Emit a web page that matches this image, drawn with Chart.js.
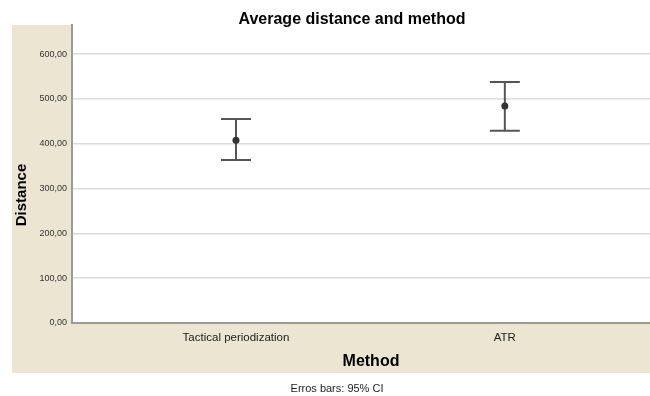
<!DOCTYPE html>
<html>
<head>
<meta charset="utf-8">
<script src="https://cdn.jsdelivr.net/npm/chart.js@4"></script>
<style>
  html, body { margin: 0; padding: 0; background: #ffffff; }
  #wrap { width: 650px; height: 396px; }
</style>
</head>
<body>
<div id="wrap"><canvas id="chart" width="650" height="396"></canvas></div>
<script>
// values
const methods = ['Tactical periodization', 'ATR'];
const means = [408, 484];
const ciLower = [364, 429];
const ciUpper = [455, 538];
const yTicks = [0, 100, 200, 300, 400, 500, 600];

const BEIGE = '#ebe5d1';
const AXIS = '#9c9a94';

// backgrounds: beige frame, white plot area
const frame = {
    id: 'frame',
    beforeDraw(chart) {
        const { ctx, chartArea: a } = chart;
        ctx.save();
        ctx.fillStyle = '#ffffff';
        ctx.fillRect(0, 0, chart.width, chart.height);
        ctx.fillStyle = BEIGE;
        ctx.fillRect(12, 25, chart.width - 12, 348);
        ctx.fillStyle = '#ffffff';
        ctx.fillRect(a.left, a.top, a.right - a.left, a.bottom - a.top);
        ctx.restore();
    },
    afterDraw(chart) {
        const { ctx } = chart;
        ctx.save();
        ctx.fillStyle = '#000000';
        ctx.textAlign = 'center';
        ctx.textBaseline = 'middle';
        ctx.font = 'bold 16px "Liberation Sans", Arial, sans-serif';
        ctx.fillText('Average distance and method', 352, 20);
        ctx.fillText('Method', 371, 362);
        ctx.font = '11px "Liberation Sans", Arial, sans-serif';
        ctx.fillStyle = '#222222';
        ctx.fillText('Erros bars: 95% CI', 337, 389);
        ctx.translate(22, 195);
        ctx.rotate(-Math.PI / 2);
        ctx.fillStyle = '#000000';
        ctx.font = 'bold 15px "Liberation Sans", Arial, sans-serif';
        ctx.fillText('Distance', 0, 0);
        ctx.restore();
    }
};

// 95% CI whiskers
const errorBars = {
    id: 'errorBars',
    beforeDatasetsDraw(chart) {
        const { ctx, scales: { x, y } } = chart;
        ctx.save();
        ctx.strokeStyle = '#555555';
        ctx.lineWidth = 2;
        methods.forEach((m, i) => {
            const px = x.getPixelForValue(i);
            const top = y.getPixelForValue(ciUpper[i]);
            const bot = y.getPixelForValue(ciLower[i]);
            ctx.beginPath();
            ctx.moveTo(px, top);
            ctx.lineTo(px, bot);
            ctx.moveTo(px - 15, top);
            ctx.lineTo(px + 15, top);
            ctx.moveTo(px - 15, bot);
            ctx.lineTo(px + 15, bot);
            ctx.stroke();
        });
        ctx.restore();
    }
};

new Chart(document.getElementById('chart'), {
    type: 'scatter',
    data: {
        datasets: [{
            data: means.map((v, i) => ({ x: i, y: v })),
            pointRadius: 3.5,
            pointBackgroundColor: '#333333',
            pointBorderColor: '#333333',
            pointBorderWidth: 0
        }]
    },
    options: {
        responsive: false,
        animation: false,
        layout: { autoPadding: false, padding: { top: 25, left: 0, right: 0, bottom: 0 } },
        plugins: {
            legend: { display: false },
            tooltip: { enabled: false }
        },
        scales: {
            x: {
                type: 'linear',
                min: -0.61,
                max: 1.54,
                afterBuildTicks(scale) {
                    scale.ticks = methods.map((m, i) => ({ value: i }));
                },
                afterFit(scale) { scale.height = 73; },
                grid: { display: false, drawTicks: false },
                border: { color: AXIS, width: 2 },
                ticks: {
                    padding: 8,
                    color: '#222222',
                    font: { family: '"Liberation Sans", Arial, sans-serif', size: 11.5 },
                    callback: (v) => methods[v]
                }
            },
            y: {
                min: 0,
                max: 665,
                afterBuildTicks(scale) {
                    scale.ticks = yTicks.map(v => ({ value: v }));
                },
                afterFit(scale) { scale.width = 72; },
                grid: { color: '#dcdcdc', lineWidth: 1.5, drawTicks: false },
                border: { color: AXIS, width: 2 },
                ticks: {
                    padding: 5,
                    color: '#333333',
                    font: { family: '"Liberation Sans", Arial, sans-serif', size: 9 },
                    callback: (v) => v.toFixed(2).replace('.', ',')
                }
            }
        }
    },
    plugins: [frame, errorBars]
});
</script>
</body>
</html>
